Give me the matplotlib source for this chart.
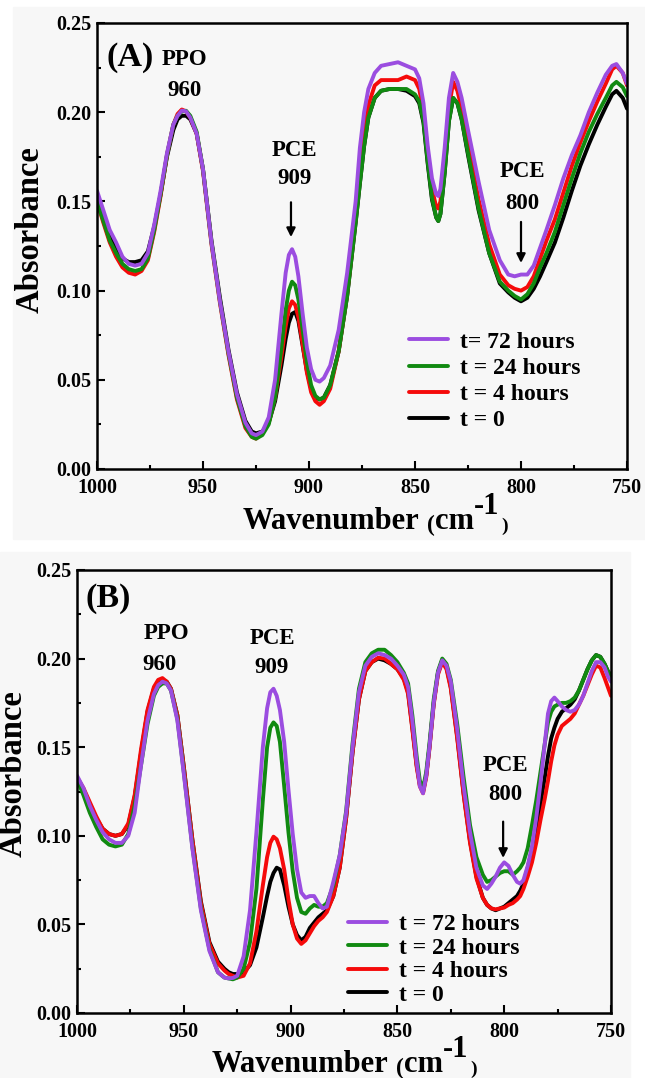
import matplotlib
matplotlib.use('Agg')
import matplotlib.pyplot as plt
from matplotlib.patches import Rectangle
from matplotlib.ticker import MultipleLocator, FormatStrFormatter

plt.rcParams['font.family'] = ['Liberation Serif', 'DejaVu Serif']
plt.rcParams['font.weight'] = 'bold'

# ---- data, panel A ----
wn_a = [1000, 997, 994, 991, 988, 985, 982, 979, 976, 973,
        970, 967, 964, 962, 960, 958, 956, 953, 950, 946,
        942, 938, 934, 930, 927, 925, 922, 919, 916, 913,
        911, 909.5, 908, 906.5, 905, 903, 901, 899, 897, 895,
        893, 890, 886, 882, 878, 876, 874, 872, 869, 866,
        862, 858, 854, 850, 848, 846, 844, 842, 840, 839,
        838, 836, 834, 832, 830, 828, 825, 820, 815, 810,
        806, 803, 800, 797, 794, 791, 788, 784, 780, 776,
        772, 768, 764, 760, 757, 755, 752, 750]
a_72h = [0.156, 0.145, 0.134, 0.127, 0.119, 0.115, 0.114, 0.115, 0.121, 0.137,
         0.156, 0.177, 0.193, 0.198, 0.2009, 0.2005, 0.197, 0.188, 0.168, 0.127,
         0.094, 0.066, 0.042, 0.026, 0.020, 0.019, 0.021, 0.029, 0.050, 0.087,
         0.110, 0.120, 0.1232, 0.119, 0.108, 0.087, 0.068, 0.056, 0.050, 0.049,
         0.051, 0.058, 0.078, 0.110, 0.150, 0.180, 0.200, 0.213, 0.222, 0.226,
         0.227, 0.228, 0.226, 0.224, 0.219, 0.205, 0.181, 0.163, 0.154, 0.153,
         0.157, 0.180, 0.208, 0.222, 0.217, 0.208, 0.190, 0.161, 0.134, 0.117,
         0.109, 0.108, 0.109, 0.109, 0.114, 0.124, 0.134, 0.148, 0.163, 0.176,
         0.187, 0.200, 0.211, 0.221, 0.226, 0.227, 0.222, 0.216]
a_24h = [0.150, 0.139, 0.128, 0.121, 0.115, 0.112, 0.111, 0.112, 0.118, 0.134,
         0.154, 0.176, 0.193, 0.198, 0.2005, 0.2008, 0.198, 0.189, 0.168, 0.127,
         0.094, 0.065, 0.040, 0.024, 0.018, 0.017, 0.019, 0.025, 0.040, 0.068,
         0.089, 0.100, 0.105, 0.103, 0.095, 0.078, 0.060, 0.047, 0.041, 0.039,
         0.040, 0.047, 0.066, 0.097, 0.138, 0.160, 0.181, 0.197, 0.208, 0.212,
         0.213, 0.213, 0.213, 0.210, 0.206, 0.195, 0.172, 0.152, 0.141, 0.139,
         0.143, 0.166, 0.195, 0.208, 0.205, 0.196, 0.177, 0.146, 0.121, 0.105,
         0.100, 0.097, 0.095, 0.098, 0.104, 0.113, 0.121, 0.133, 0.148, 0.163,
         0.177, 0.189, 0.199, 0.208, 0.215, 0.217, 0.214, 0.209]
a_4h = [0.150, 0.138, 0.127, 0.119, 0.113, 0.110, 0.109, 0.111, 0.117, 0.133,
        0.153, 0.176, 0.193, 0.199, 0.2015, 0.2005, 0.197, 0.188, 0.167, 0.126,
        0.093, 0.064, 0.039, 0.023, 0.018, 0.017, 0.020, 0.026, 0.040, 0.063,
        0.080, 0.090, 0.094, 0.092, 0.085, 0.070, 0.054, 0.043, 0.038, 0.036,
        0.038, 0.045, 0.066, 0.098, 0.140, 0.163, 0.186, 0.204, 0.215, 0.218,
        0.218, 0.218, 0.220, 0.218, 0.213, 0.200, 0.178, 0.157, 0.147, 0.146,
        0.150, 0.173, 0.202, 0.217, 0.212, 0.202, 0.182, 0.151, 0.126, 0.109,
        0.103, 0.101, 0.100, 0.102, 0.108, 0.118, 0.128, 0.140, 0.155, 0.170,
        0.183, 0.195, 0.206, 0.216, 0.224, 0.226, 0.222, 0.215]
a_0h = [0.150, 0.140, 0.131, 0.124, 0.118, 0.116, 0.116, 0.117, 0.122, 0.136,
        0.154, 0.175, 0.190, 0.196, 0.198, 0.198, 0.196, 0.188, 0.168, 0.128,
        0.096, 0.067, 0.043, 0.027, 0.021, 0.020, 0.021, 0.026, 0.038, 0.058,
        0.073, 0.082, 0.087, 0.088, 0.083, 0.069, 0.055, 0.045, 0.040, 0.039,
        0.040, 0.047, 0.066, 0.097, 0.138, 0.160, 0.181, 0.197, 0.208, 0.212,
        0.213, 0.213, 0.212, 0.209, 0.205, 0.194, 0.171, 0.151, 0.141, 0.139,
        0.143, 0.166, 0.195, 0.208, 0.205, 0.196, 0.176, 0.145, 0.121, 0.104,
        0.099, 0.096, 0.094, 0.096, 0.101, 0.108, 0.116, 0.127, 0.141, 0.156,
        0.170, 0.182, 0.193, 0.203, 0.210, 0.212, 0.208, 0.202]

# ---- data, panel B ----
wn_b = [1000, 997, 994, 991, 988, 985, 982, 979, 976, 973,
        970, 967, 964, 962, 960, 958, 956, 953, 950, 946,
        942, 938, 934, 931, 929, 927, 925, 922, 919, 916,
        913, 911, 909.5, 908, 906.5, 905, 903, 901, 899, 897,
        895, 893, 891, 889, 887, 885, 883, 880, 877, 874,
        871, 868, 865, 862, 859, 856, 853, 850, 847, 845,
        843, 841, 839.5, 838, 836.5, 835, 833, 831, 829, 827,
        825, 822, 819, 816, 813, 810, 808, 806, 804, 802,
        800, 798, 796, 794, 792.5, 791, 789, 787, 785, 783,
        781, 779.5, 778, 776.5, 775, 773, 771, 769, 767, 765,
        763, 761, 759, 757, 755, 753, 751.5, 750]
b_72h = [0.134, 0.127, 0.117, 0.109, 0.102, 0.098, 0.096, 0.096, 0.100, 0.113,
         0.140, 0.165, 0.180, 0.185, 0.187, 0.186, 0.182, 0.165, 0.135, 0.093,
         0.058, 0.035, 0.023, 0.020, 0.0195, 0.0198, 0.021, 0.032, 0.058, 0.102,
         0.150, 0.172, 0.181, 0.183, 0.179, 0.171, 0.153, 0.126, 0.101, 0.081,
         0.068, 0.065, 0.066, 0.066, 0.062, 0.059, 0.060, 0.074, 0.089, 0.113,
         0.150, 0.181, 0.196, 0.201, 0.203, 0.202, 0.200, 0.196, 0.191, 0.184,
         0.165, 0.142, 0.128, 0.124, 0.134, 0.150, 0.175, 0.192, 0.199, 0.196,
         0.187, 0.160, 0.128, 0.102, 0.082, 0.072, 0.070, 0.073, 0.077, 0.082,
         0.085, 0.083, 0.078, 0.074, 0.073, 0.075, 0.083, 0.094, 0.110, 0.130,
         0.152, 0.169, 0.176, 0.178, 0.176, 0.173, 0.171, 0.170, 0.171, 0.174,
         0.179, 0.186, 0.193, 0.198, 0.198, 0.195, 0.190, 0.187]
b_24h = [0.132, 0.123, 0.113, 0.105, 0.098, 0.095, 0.094, 0.095, 0.101, 0.117,
         0.140, 0.163, 0.179, 0.184, 0.186, 0.186, 0.182, 0.166, 0.136, 0.094,
         0.059, 0.036, 0.023, 0.020, 0.0195, 0.019, 0.020, 0.025, 0.040, 0.070,
         0.120, 0.150, 0.161, 0.164, 0.162, 0.153, 0.128, 0.102, 0.080, 0.065,
         0.057, 0.056, 0.059, 0.061, 0.060, 0.060, 0.062, 0.072, 0.089, 0.114,
         0.152, 0.183, 0.198, 0.203, 0.205, 0.205, 0.202, 0.198, 0.192, 0.186,
         0.168, 0.145, 0.131, 0.127, 0.136, 0.152, 0.177, 0.193, 0.200, 0.197,
         0.188, 0.163, 0.133, 0.106, 0.088, 0.078, 0.074, 0.075, 0.077, 0.079,
         0.080, 0.080, 0.078, 0.080, 0.082, 0.085, 0.093, 0.106, 0.120, 0.136,
         0.152, 0.164, 0.170, 0.173, 0.174, 0.175, 0.175, 0.176, 0.178, 0.182,
         0.188, 0.194, 0.199, 0.202, 0.201, 0.197, 0.193, 0.190]
b_4h = [0.133, 0.127, 0.119, 0.111, 0.104, 0.101, 0.100, 0.101, 0.107, 0.123,
        0.149, 0.171, 0.184, 0.188, 0.189, 0.187, 0.183, 0.168, 0.139, 0.098,
        0.062, 0.039, 0.028, 0.024, 0.022, 0.021, 0.020, 0.021, 0.028, 0.046,
        0.072, 0.088, 0.096, 0.0995, 0.098, 0.093, 0.081, 0.064, 0.050, 0.042,
        0.039, 0.041, 0.045, 0.049, 0.052, 0.054, 0.057, 0.066, 0.082, 0.110,
        0.147, 0.177, 0.193, 0.198, 0.2005, 0.200, 0.197, 0.194, 0.188, 0.180,
        0.160, 0.139, 0.128, 0.124, 0.133, 0.149, 0.174, 0.191, 0.198, 0.194,
        0.183, 0.155, 0.123, 0.096, 0.076, 0.065, 0.061, 0.059, 0.0585, 0.059,
        0.0595, 0.061, 0.062, 0.064, 0.066, 0.070, 0.077, 0.085, 0.096, 0.109,
        0.121, 0.131, 0.142, 0.151, 0.157, 0.162, 0.164, 0.166, 0.169, 0.174,
        0.179, 0.185, 0.191, 0.196, 0.195, 0.189, 0.184, 0.179]
b_0h = [0.133, 0.126, 0.118, 0.110, 0.104, 0.101, 0.100, 0.101, 0.106, 0.122,
        0.147, 0.170, 0.183, 0.187, 0.188, 0.187, 0.183, 0.168, 0.139, 0.098,
        0.063, 0.040, 0.029, 0.025, 0.023, 0.022, 0.022, 0.023, 0.027, 0.037,
        0.054, 0.066, 0.074, 0.079, 0.082, 0.081, 0.072, 0.060, 0.050, 0.044,
        0.041, 0.043, 0.048, 0.051, 0.054, 0.056, 0.058, 0.066, 0.082, 0.110,
        0.147, 0.177, 0.193, 0.198, 0.200, 0.199, 0.197, 0.194, 0.189, 0.181,
        0.161, 0.140, 0.129, 0.125, 0.134, 0.150, 0.175, 0.192, 0.199, 0.195,
        0.184, 0.156, 0.124, 0.097, 0.077, 0.065, 0.061, 0.059, 0.058, 0.059,
        0.060, 0.062, 0.064, 0.066, 0.069, 0.073, 0.082, 0.092, 0.104, 0.118,
        0.133, 0.145, 0.155, 0.161, 0.166, 0.170, 0.172, 0.174, 0.177, 0.182,
        0.188, 0.194, 0.199, 0.202, 0.201, 0.197, 0.193, 0.190]

labels_a = ['t= 72 hours', 't = 24 hours', 't = 4 hours', 't = 0']
labels_b = ['t = 72 hours', 't = 24 hours', 't = 4 hours', 't = 0']
colors = ['#9b4de0', '#118a11', '#f50a0a', 'black']

BG = '#f7f7f7'
W, H = 645, 1078

fig = plt.figure(figsize=(6.45, 10.78), dpi=100)
fig.patch.set_facecolor('white')
# light grey panel backgrounds
fig.patches.append(Rectangle((13 / W, 1 - 539 / H), 632 / W, 532 / H,
                             transform=fig.transFigure, color=BG, zorder=-10))
fig.patches.append(Rectangle((0, 0), 630 / W, 526 / H,
                             transform=fig.transFigure, color=BG, zorder=-10))

ax_a = fig.add_axes([97 / W, 1 - 469 / H, 530 / W, 446 / H])
ax_b = fig.add_axes([77 / W, 1 - 1013 / H, 534 / W, 443 / H])


def style_axes(ax):
    ax.set_facecolor(BG)
    ax.set_xlim(1000, 750)
    ax.set_ylim(0, 0.25)
    ax.xaxis.set_major_locator(MultipleLocator(50))
    ax.xaxis.set_minor_locator(MultipleLocator(25))
    ax.yaxis.set_major_locator(MultipleLocator(0.05))
    ax.yaxis.set_minor_locator(MultipleLocator(0.025))
    ax.yaxis.set_major_formatter(FormatStrFormatter('%.2f'))
    ax.tick_params(which='both', direction='in', top=False, right=False, width=1.5)
    ax.tick_params(which='major', length=5.5, labelsize=14.5)
    ax.tick_params(which='minor', length=2.8)
    ax.tick_params(axis='x', which='major', pad=6.5)
    ax.tick_params(axis='y', which='major', pad=4)
    for s in ax.spines.values():
        s.set_linewidth(1.8)
    for lab in ax.get_xticklabels() + ax.get_yticklabels():
        lab.set_fontweight('bold')


def xlabel(x_px, base_px):
    # "Wavenumber (cm-1)" put together piece by piece, like the original
    yb = 1 - base_px / H
    t = fig.text(x_px / W, yb, 'Wavenumber', fontsize=22,
                 fontweight='bold', va='baseline', ha='left')
    pieces = [('(', 17, 5, -1.5), ('cm', 22, 0.5, 0), ('-1', 22, 0, 11), (')', 14, 1, -1.5)]
    for s, size, dx, dy in pieces:
        t = fig.add_artist(
            plt.Annotation(s, xy=(1, yb), xycoords=(t, 'figure fraction'),
                           xytext=(dx, dy), textcoords='offset points',
                           fontsize=size, fontweight='bold', va='baseline', ha='left'))


def panel(ax, wn, series, labels, leg_xy, spacing):
    lines = []
    for y, c in zip(series[::-1], colors[::-1]):
        ln, = ax.plot(wn, y, color=c, lw=2.8, solid_capstyle='round',
                      solid_joinstyle='round')
        lines.append(ln)
    lines = lines[::-1]
    ax.legend(lines, labels, loc='upper left', bbox_to_anchor=leg_xy, frameon=False,
              handlelength=1.65, handletextpad=0.5, labelspacing=spacing,
              borderpad=0, borderaxespad=0, prop={'size': 17, 'weight': 'bold'})
    style_axes(ax)


panel(ax_a, wn_a, [a_72h, a_24h, a_4h, a_0h], labels_a, (0.589, 0.309), 0.2)
panel(ax_b, wn_b, [b_72h, b_24h, b_4h, b_0h], labels_b, (0.507, 0.224), 0.08)

ann = dict(fontsize=16.5, fontweight='bold', ha='center', va='center')
arr = dict(arrowstyle='-|>', color='black', lw=1.6, mutation_scale=13, shrinkA=0, shrinkB=0)

# panel A annotations
ax_a.text(984.5, 0.2304, '(A)', fontsize=24.5, fontweight='bold', ha='center', va='center')
ax_a.text(958.5, 0.2293, 'PPO', **ann)
ax_a.text(958.5, 0.2119, '960', **ann)
ax_a.text(907, 0.1788, 'PCE', **ann)
ax_a.text(907, 0.1626, '909', **ann)
ax_a.annotate('', xy=(908.5, 0.1300), xytext=(908.5, 0.1495), arrowprops=arr)
ax_a.text(799.5, 0.1665, 'PCE', **ann)
ax_a.text(799.5, 0.1491, '800', **ann)
ax_a.annotate('', xy=(800, 0.1155), xytext=(800, 0.1385), arrowprops=arr)

# panel B annotations
ax_b.text(985.5, 0.234, '(B)', fontsize=24.5, fontweight='bold', ha='center', va='center')
ax_b.text(958.3, 0.214, 'PPO', **ann)
ax_b.text(961.4, 0.1968, '960', **ann)
ax_b.text(908.4, 0.2113, 'PCE', **ann)
ax_b.text(908.7, 0.1948, '909', **ann)
ax_b.text(799.6, 0.1398, 'PCE', **ann)
ax_b.text(799.6, 0.1233, '800', **ann)
ax_b.annotate('', xy=(800.5, 0.0875), xytext=(800.5, 0.108), arrowprops=arr)

fig.text(30 / W, 1 - 230 / H, 'Absorbance', rotation=90, fontsize=23.5,
         fontweight='bold', ha='center', va='center')
fig.text(13.5 / W, 1 - 774 / H, 'Absorbance', rotation=90, fontsize=23.5,
         fontweight='bold', ha='center', va='center')
xlabel(243, 529)
xlabel(212, 1072)

fig.savefig('out.png', dpi=100)
